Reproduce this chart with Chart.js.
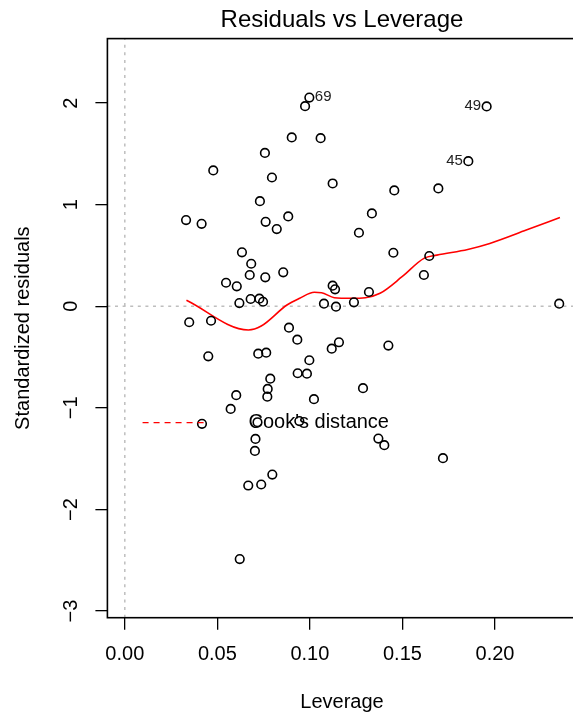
<!DOCTYPE html>
<html lang="en">
<head>
<meta charset="UTF-8" />
<title>Residuals vs Leverage</title>
<script src="https://cdn.jsdelivr.net/npm/chart.js@4.4.1/dist/chart.umd.min.js"></script>
<style>
  html, body { margin: 0; padding: 0; background: #fff; overflow: hidden; }
  .chart-container { width: 600px; height: 717px; }
</style>
</head>
<body>
<div class="chart-container"><canvas id="rvl" width="600" height="717"></canvas></div>
<script>
// leverage (hat values) and standardized residuals
const leverage = [
  0.0997, 0.0974, 0.0902, 0.1058, 0.0757, 0.0478, 0.0795, 0.1123, 0.0730, 0.0331,
  0.0415, 0.0761, 0.0821, 0.0883, 0.1955, 0.1856, 0.1456, 0.1694, 0.1335, 0.1265,
  0.0633, 0.0683, 0.0675, 0.0759, 0.0856, 0.0547, 0.0605, 0.0680, 0.0727, 0.0747,
  0.0619, 0.1076, 0.1123, 0.1136, 0.0348, 0.0466, 0.0887, 0.0932, 0.1118, 0.1157,
  0.0451, 0.0721, 0.0764, 0.0997, 0.0934, 0.0984, 0.0786, 0.0772, 0.0770, 0.0602,
  0.1022, 0.1451, 0.1645, 0.1616, 0.1319, 0.1238, 0.1141, 0.2347, 0.1424, 0.1287,
  0.0572, 0.0417, 0.0717, 0.0943, 0.0706, 0.0703, 0.0797, 0.0737, 0.0667, 0.0621,
  0.1370, 0.1402, 0.1719
];
const stdResid = [
  2.055, 1.970, 1.662, 1.655, 1.510, 1.337, 1.268, 1.209, 1.035, 0.849,
  0.812, 0.832, 0.760, 0.885, 1.967, 1.429, 1.141, 1.160, 0.914, 0.724,
  0.531, 0.419, 0.308, 0.285, 0.334, 0.232, 0.197, 0.072, 0.075, 0.045,
  0.032, 0.026, 0.203, 0.167, -0.157, -0.142, -0.210, -0.328, -0.417, -0.354,
  -0.492, -0.466, -0.456, -0.531, -0.659, -0.663, -0.712, -0.813, -0.889, -0.875,
  -0.914, 0.527, 0.495, 0.308, 0.141, 0.039, -0.004, 0.026, -0.387, -0.806,
  -1.010, -1.157, -1.141, -1.130, -1.305, -1.423, -1.656, -1.754, -1.764, -2.488,
  -1.302, -1.367, -1.495
];

// red smoother
const smoothLeverage = [0.0333, 0.0668, 0.0737, 0.0876, 0.0945, 0.1024, 0.1063, 0.1132, 0.1221,
  0.1300, 0.1379, 0.1498, 0.1616, 0.1686, 0.1853, 0.1972, 0.2169, 0.2351];
const smoothResid = [0.059, -0.233, -0.194, 0.013, 0.079, 0.138, 0.134, 0.085, 0.079,
  0.085, 0.128, 0.291, 0.472, 0.504, 0.560, 0.619, 0.750, 0.875];

// labelled observations (index into the arrays above)
const idIndex = [0, 14, 15];
const idText = ["69", "49", "45"];
const idSide = ["right", "left", "left"];

const xTicks = [0, 0.05, 0.10, 0.15, 0.20];
const xTickLabels = ["0.00", "0.05", "0.10", "0.15", "0.20"];
const yTicks = [-3, -2, -1, 0, 1, 2];
const yTickLabels = ["\u22123", "\u22122", "\u22121", "0", "1", "2"];
const xRange = [-0.0094, 0.2441];
const yRange = [-3.065, 2.635];

const FONT = "'Liberation Sans', Arial, Helvetica, sans-serif";

const points = leverage.map((x, i) => ({ x: x, y: stdResid[i] }));
const smooth = smoothLeverage.map((x, i) => ({ x: x, y: smoothResid[i] }));

// box round the plot region, like R's box()
const boxPlugin = {
  id: "rbox",
  afterDraw(chart) {
    const { ctx, chartArea: a } = chart;
    ctx.save();
    ctx.strokeStyle = "#000";
    ctx.lineWidth = 1.6;
    ctx.strokeRect(a.left, a.top, a.right - a.left, a.bottom - a.top);
    ctx.restore();
  }
};

// main title, centred over the plot region
const titlePlugin = {
  id: "rtitle",
  afterDraw(chart) {
    const { ctx, chartArea: a } = chart;
    ctx.save();
    ctx.fillStyle = "#000";
    ctx.font = "24px " + FONT;
    ctx.textAlign = "center";
    ctx.textBaseline = "alphabetic";
    ctx.fillText("Residuals vs Leverage", (a.left + a.right) / 2, 27);
    ctx.restore();
  }
};

// id labels next to the extreme points
const idPlugin = {
  id: "idlabels",
  afterDatasetsDraw(chart) {
    const { ctx, scales } = chart;
    ctx.save();
    ctx.fillStyle = "#222";
    ctx.font = "15px " + FONT;
    ctx.textBaseline = "middle";
    idIndex.forEach((k, i) => {
      const px = scales.x.getPixelForValue(leverage[k]);
      const py = scales.y.getPixelForValue(stdResid[k]);
      if (idSide[i] === "right") {
        ctx.textAlign = "left";
        ctx.fillText(idText[i], px + 5.5, py - 0.5);
      } else {
        ctx.textAlign = "right";
        ctx.fillText(idText[i], px - 5.5, py - 0.5);
      }
    });
    ctx.restore();
  }
};

// Cook's distance legend (bty = "n")
const cookLegend = {
  id: "cooklegend",
  afterDraw(chart) {
    const { ctx, scales } = chart;
    const y = scales.y.getPixelForValue(-1.145);
    const x0 = scales.x.getPixelForValue(0.0096);
    const x1 = scales.x.getPixelForValue(0.0449);
    const xt = scales.x.getPixelForValue(0.0668);
    ctx.save();
    ctx.strokeStyle = "#ff0000";
    ctx.lineWidth = 1.4;
    ctx.setLineDash([6, 5]);
    ctx.beginPath();
    ctx.moveTo(x0, y);
    ctx.lineTo(x1, y);
    ctx.stroke();
    ctx.setLineDash([]);
    ctx.fillStyle = "#000";
    ctx.font = "20px " + FONT;
    ctx.textAlign = "left";
    ctx.textBaseline = "middle";
    ctx.fillText("Cook's distance", xt, y);
    ctx.restore();
  }
};

const ctx = document.getElementById("rvl").getContext("2d");

new Chart(ctx, {
  type: "scatter",
  data: {
    datasets: [
      {
        label: "Residuals",
        data: points,
        pointStyle: "circle",
        pointRadius: 4.3,
        pointHoverRadius: 4.3,
        pointBorderWidth: 1.6,
        borderColor: "#000",
        backgroundColor: "rgba(0,0,0,0)"
      },
      {
        label: "Smooth",
        data: smooth,
        showLine: true,
        borderColor: "#ff0000",
        borderWidth: 1.6,
        pointRadius: 0,
        cubicInterpolationMode: "monotone",
        fill: false
      },
      {
        label: "h0",
        data: [{ x: xRange[0], y: 0 }, { x: xRange[1], y: 0 }],
        showLine: true,
        borderColor: "#bebebe",
        borderWidth: 1.5,
        borderDash: [3, 4.6],
        pointRadius: 0
      },
      {
        label: "v0",
        data: [{ x: 0, y: yRange[0] }, { x: 0, y: yRange[1] }],
        showLine: true,
        borderColor: "#bebebe",
        borderWidth: 1.5,
        borderDash: [3, 4.6],
        pointRadius: 0
      }
    ]
  },
  options: {
    responsive: false,
    animation: false,
    devicePixelRatio: 1,
    layout: { padding: { top: 38.6, right: 23.4, left: 0, bottom: 0 } },
    plugins: {
      legend: { display: false },
      tooltip: { enabled: false },
      title: { display: false }
    },
    scales: {
      x: {
        type: "linear",
        min: xRange[0],
        max: xRange[1],
        afterBuildTicks: (s) => { s.ticks = xTicks.map((v) => ({ value: v })); },
        afterFit: (s) => { s.height = 99.3; },
        grid: { drawOnChartArea: false, drawTicks: true, tickLength: 12, color: "#000", lineWidth: 1.3 },
        border: { display: false },
        ticks: {
          color: "#000",
          font: { family: FONT, size: 20, lineHeight: 1.2 },
          padding: 13,
          minRotation: 0,
          maxRotation: 0,
          autoSkip: false,
          callback: (v) => xTickLabels[xTicks.indexOf(v)]
        },
        title: {
          display: true,
          text: "Leverage",
          color: "#000",
          font: { family: FONT, size: 20, lineHeight: 1.2 },
          padding: { top: 0, bottom: 3 }
        }
      },
      y: {
        type: "linear",
        min: yRange[0],
        max: yRange[1],
        afterBuildTicks: (s) => { s.ticks = yTicks.map((v) => ({ value: v })); },
        afterFit: (s) => { s.width = 107.4; },
        grid: { drawOnChartArea: false, drawTicks: true, tickLength: 12, color: "#000", lineWidth: 1.3 },
        border: { display: false },
        ticks: {
          color: "#000",
          font: { family: FONT, size: 20, lineHeight: 1.2 },
          padding: 12.3,
          minRotation: 90,
          maxRotation: 90,
          crossAlign: "center",
          autoSkip: false,
          callback: (v) => yTickLabels[yTicks.indexOf(v)]
        },
        title: {
          display: true,
          text: "Standardized residuals",
          color: "#000",
          font: { family: FONT, size: 20, lineHeight: 1.2 },
          padding: { top: 11, bottom: 0 }
        }
      }
    }
  },
  plugins: [boxPlugin, titlePlugin, idPlugin, cookLegend]
});
</script>
</body>
</html>
